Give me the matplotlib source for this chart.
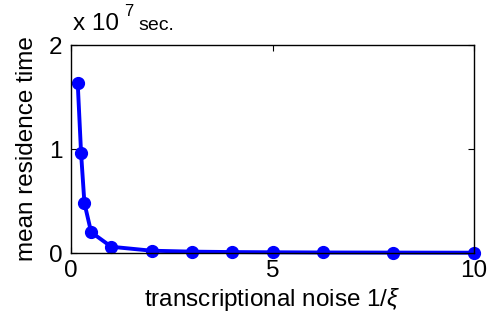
import matplotlib
matplotlib.use("Agg")
import matplotlib.pyplot as plt

plt.rcParams['font.family'] = ['Liberation Sans', 'DejaVu Sans']
plt.rcParams['mathtext.fontset'] = 'custom'
plt.rcParams['mathtext.it'] = 'Liberation Sans:italic'
plt.rcParams['mathtext.rm'] = 'Liberation Sans'

inv_xi = [0.167, 0.25, 0.333, 0.5, 1, 2, 3, 4, 5, 6.25, 8, 10]
residence = [1.63, 0.96, 0.48, 0.20, 0.06, 0.022, 0.013, 0.009, 0.007, 0.005, 0.004, 0.003]

fig = plt.figure(figsize=(4.87, 3.24), dpi=100)
ax = fig.add_axes([71/487, 1-253/324, (474-71)/487, (253-45)/324])
ax.plot(inv_xi, residence, '-o', color='#0000ff', lw=2.8, ms=8.5, clip_on=False)
ax.set_xlim(0, 10)
ax.set_ylim(0, 2)
ax.set_xticks([0, 5, 10])
ax.set_yticks([0, 1, 2])
ax.tick_params(direction='in', top=True, right=True, labelsize=17.5, length=4, width=0.8)
ax.tick_params(axis='y', pad=6)
ax.tick_params(axis='x', pad=5)
for s in ax.spines.values():
    s.set_linewidth(1.0)
ax.set_xlabel('transcriptional noise $\\mathit{1/\\xi}$', fontsize=17.5, labelpad=3)
ax.set_ylabel('mean residence time', fontsize=17.5, labelpad=8)
fig.text(73/487, 1-30/324, 'x 10', fontsize=17.5, va='baseline', ha='left')
fig.text(124/487, 1-16/324, '7', fontsize=12, va='baseline', ha='left')
fig.text(138/487, 1-30/324, 'sec.', fontsize=14, va='baseline', ha='left')
fig.savefig('out.png', dpi=100)
